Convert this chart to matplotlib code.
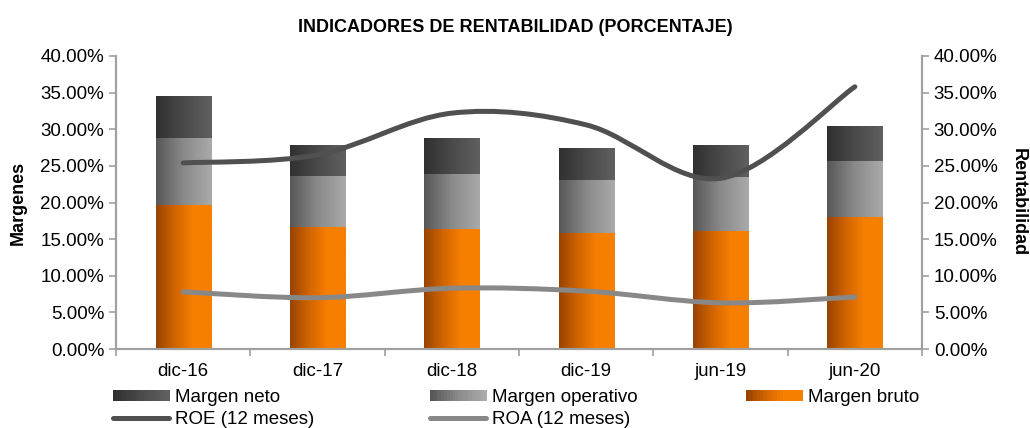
import numpy as np
import matplotlib
matplotlib.use('Agg')
import matplotlib.pyplot as plt
from matplotlib.colors import LinearSegmentedColormap
from matplotlib.patches import Rectangle
from matplotlib.path import Path
from matplotlib.patches import PathPatch
from matplotlib.lines import Line2D
from matplotlib.legend_handler import HandlerBase
from matplotlib.ticker import FuncFormatter, FixedLocator

plt.rcParams['font.family'] = ['Liberation Sans', 'DejaVu Sans']

# data (percent)
categories = ['dic-16', 'dic-17', 'dic-18', 'dic-19', 'jun-19', 'jun-20']
margen_bruto = [19.7, 16.6, 16.4, 15.8, 16.1, 18.0]
margen_operativo = [9.1, 7.0, 7.5, 7.3, 7.4, 7.7]
margen_neto = [5.7, 4.1, 4.9, 4.3, 4.35, 4.7]
roe = [25.4, 26.5, 32.2, 30.6, 23.3, 35.8]
roa = [7.8, 7.0, 8.3, 7.9, 6.3, 7.1]

orange_cm = LinearSegmentedColormap.from_list('o', ['#984300', '#d06400', '#f77f00', '#f77f00'])
oper_cm = LinearSegmentedColormap.from_list('g', ['#575757', '#8a8a8a', '#aaaaaa'])
neto_cm = LinearSegmentedColormap.from_list('n', ['#303030', '#4a4a4a', '#606060'])
axis_col = '#a0a0a0'
fs = 13.5

fig = plt.figure(figsize=(10.3, 4.28), dpi=100)
ax = fig.add_axes([116 / 1030, 1 - 349 / 428, 806 / 1030, 293 / 428])
ax2 = ax.twinx()

x = np.arange(len(categories))
width = 0.41
grad = np.linspace(0, 1, 256).reshape(1, -1)


def grad_bar(xc, y0, h, cmap):
    ax.imshow(grad, cmap=cmap, aspect='auto', interpolation='bilinear',
              extent=[xc - width / 2, xc + width / 2, y0, y0 + h], zorder=2)


for i in x:
    b = margen_bruto[i]
    o = margen_operativo[i]
    n = margen_neto[i]
    grad_bar(i, 0, b, orange_cm)
    grad_bar(i, b, o, oper_cm)
    grad_bar(i, b + o, n, neto_cm)


def smooth_path(xs, ys):
    # Excel-like bezier smoothing through the points
    pts = np.column_stack([xs, ys]).astype(float)
    verts = [pts[0]]
    codes = [Path.MOVETO]
    for k in range(len(pts) - 1):
        p0 = pts[k - 1] if k > 0 else pts[k]
        p1 = pts[k]
        p2 = pts[k + 1]
        p3 = pts[k + 2] if k + 2 < len(pts) else pts[k + 1]
        c1 = p1 + (p2 - p0) / 6
        c2 = p2 - (p3 - p1) / 6
        verts += [c1, c2, p2]
        codes += [Path.CURVE4] * 3
    return Path(verts, codes)


for series, col in [(roe, '#505050'), (roa, '#888888')]:
    ax2.add_patch(PathPatch(smooth_path(x, series), fill=False, edgecolor=col,
                            lw=3.6, capstyle='round', joinstyle='round', zorder=3))

for a in (ax, ax2):
    a.set_xlim(-0.5, 5.5)
    a.set_ylim(0, 40)
    a.yaxis.set_major_locator(FixedLocator(np.arange(0, 41, 5)))
    a.yaxis.set_major_formatter(FuncFormatter(lambda v, p: f'{v:.2f}%'))
    a.tick_params(axis='y', labelsize=fs, colors=axis_col, labelcolor='black', length=5, width=1.2)
    for s in a.spines.values():
        s.set_color(axis_col)
        s.set_linewidth(1.5)
    a.spines['top'].set_visible(False)
    a.set_facecolor('none')

ax.set_xticks(x)
ax.set_xticklabels(categories, fontsize=fs)
ax.set_xticks(np.arange(-0.5, 6, 1), minor=True)
ax.tick_params(axis='x', which='major', length=0, pad=10)
ax.tick_params(axis='x', which='minor', length=5, width=1.2, colors=axis_col)

ax.set_ylabel('Margenes', fontsize=13, fontweight='bold', va='center')
ax.yaxis.set_label_coords((18 - 116) / 806, 0.5)
ax2.set_ylabel('Rentabilidad', fontsize=13, fontweight='bold', rotation=-90, va='center')
ax2.yaxis.set_label_coords((1018 - 116) / 806, 0.5)

fig.text(515 / 1030, 1 - 27 / 428, 'INDICADORES DE RENTABILIDAD (PORCENTAJE)',
         ha='center', va='center', fontsize=13, fontweight='bold')


class GradHandler(HandlerBase):
    def __init__(self, cmap):
        super().__init__()
        self.cmap = cmap

    def create_artists(self, legend, orig_handle, xdescent, ydescent, width, height, fontsize, trans):
        arts = []
        n = 20
        for k in range(n):
            r = Rectangle((-xdescent + width * k / n, -ydescent + height * 0.05), width / n + 0.3, height * 0.85,
                          facecolor=self.cmap(k / (n - 1)), edgecolor='none', transform=trans)
            arts.append(r)
        return arts


h_neto = Rectangle((0, 0), 1, 1, label='Margen neto')
h_oper = Rectangle((0, 0), 1, 1, label='Margen operativo')
h_bruto = Rectangle((0, 0), 1, 1, label='Margen bruto')
h_roe = Line2D([], [], color='#505050', lw=3.6, solid_capstyle='round', label='ROE (12 meses)')
h_roa = Line2D([], [], color='#888888', lw=3.6, solid_capstyle='round', label='ROA (12 meses)')

hmap = {h_neto: GradHandler(neto_cm), h_oper: GradHandler(oper_cm), h_bruto: GradHandler(orange_cm)}
columns = [([h_neto, h_roe], 113), ([h_oper, h_roa], 430), ([h_bruto], 746)]
for hs, xpx in columns:
    fig.legend(handles=hs, labels=[h.get_label() for h in hs],
               loc='upper left', bbox_to_anchor=(xpx / 1030, 1 - 389 / 428), frameon=False,
               fontsize=fs, handlelength=3.0, handletextpad=0.3,
               labelspacing=0.28, borderpad=0, borderaxespad=0, handler_map=hmap)

fig.savefig('out.png', dpi=100)
